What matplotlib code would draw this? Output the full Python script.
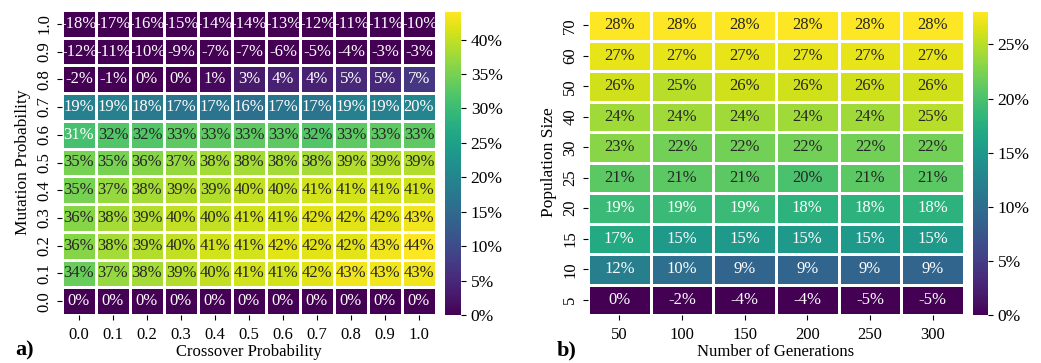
import numpy as np
import matplotlib
matplotlib.use("Agg")
import matplotlib.pyplot as plt
from matplotlib.ticker import PercentFormatter, MultipleLocator
import seaborn as sns

plt.rcParams['font.family'] = ['Liberation Serif', 'DejaVu Serif']

# a) crossover vs mutation probability (percent improvement)
crossover = ["0.0", "0.1", "0.2", "0.3", "0.4", "0.5", "0.6", "0.7", "0.8", "0.9", "1.0"]
mutation = ["1.0", "0.9", "0.8", "0.7", "0.6", "0.5", "0.4", "0.3", "0.2", "0.1", "0.0"]
grid_a = [
    [-18, -17, -16, -15, -14, -14, -13, -12, -11, -11, -10],
    [-12, -11, -10, -9, -7, -7, -6, -5, -4, -3, -3],
    [-2, -1, 0, 0, 1, 3, 4, 4, 5, 5, 7],
    [19, 19, 18, 17, 17, 16, 17, 17, 19, 19, 20],
    [31, 32, 32, 33, 33, 33, 33, 32, 33, 33, 33],
    [35, 35, 36, 37, 38, 38, 38, 38, 39, 39, 39],
    [35, 37, 38, 39, 39, 40, 40, 41, 41, 41, 41],
    [36, 38, 39, 40, 40, 41, 41, 42, 42, 42, 43],
    [36, 38, 39, 40, 41, 41, 42, 42, 42, 43, 44],
    [34, 37, 38, 39, 40, 41, 41, 42, 43, 43, 43],
    [0, 0, 0, 0, 0, 0, 0, 0, 0, 0, 0],
]

# b) generations vs population size
generations = ["50", "100", "150", "200", "250", "300"]
population = ["70", "60", "50", "40", "30", "25", "20", "15", "10", "5"]
grid_b = [
    [28, 28, 28, 28, 28, 28],
    [27, 27, 27, 27, 27, 27],
    [26, 25, 26, 26, 26, 26],
    [24, 24, 24, 24, 24, 25],
    [23, 22, 22, 22, 22, 22],
    [21, 21, 21, 20, 21, 21],
    [19, 19, 19, 18, 18, 18],
    [17, 15, 15, 15, 15, 15],
    [12, 10, 9, 9, 9, 9],
    [0, -2, -4, -4, -5, -5],
]

W, H = 1041, 363
fig = plt.figure(figsize=(W / 100, H / 100), dpi=100)


def px_axes(x0, y0, x1, y1):
    return fig.add_axes([x0 / W, 1 - y1 / H, (x1 - x0) / W, (y1 - y0) / H])


def draw(ax, cax, data, xlabels, ylabels, xlabel, ylabel):
    vals = np.array(data) / 100.0
    sns.heatmap(vals, ax=ax, cbar_ax=cax, cmap="viridis", vmin=0, vmax=vals.max(),
                annot=True, fmt=".0%", annot_kws={"fontsize": 12},
                linewidths=0.8, linecolor="white",
                xticklabels=xlabels, yticklabels=ylabels,
                cbar_kws={"format": PercentFormatter(xmax=1, decimals=0),
                          "ticks": MultipleLocator(0.05)})
    ax.tick_params(axis="both", labelsize=12, length=3.5, width=0.8)
    ax.tick_params(axis="x", pad=5)
    ax.set_yticklabels(ylabels, rotation=90, va="center")
    ax.set_xticklabels(xlabels, rotation=0)
    ax.set_xlabel(xlabel, fontsize=12, labelpad=1)
    ax.set_ylabel(ylabel, fontsize=12.5, labelpad=4)
    cax.tick_params(labelsize=12.5, length=3.5, width=0.8)


ax_a = px_axes(62, 10, 436, 315)
cax_a = px_axes(445, 12, 461, 315)
draw(ax_a, cax_a, grid_a, crossover, mutation, "Crossover Probability", "Mutation Probability")

ax_b = px_axes(588, 10, 964, 315)
cax_b = px_axes(973, 12, 988, 315)
draw(ax_b, cax_b, grid_b, generations, population, "Number of Generations", "Population Size")

fig.text(15 / W, 1 - 350 / H, "a)", fontsize=16, fontweight="bold", va="center")
fig.text(557 / W, 1 - 350 / H, "b)", fontsize=16, fontweight="bold", va="center")

fig.savefig("out.png", dpi=100)
